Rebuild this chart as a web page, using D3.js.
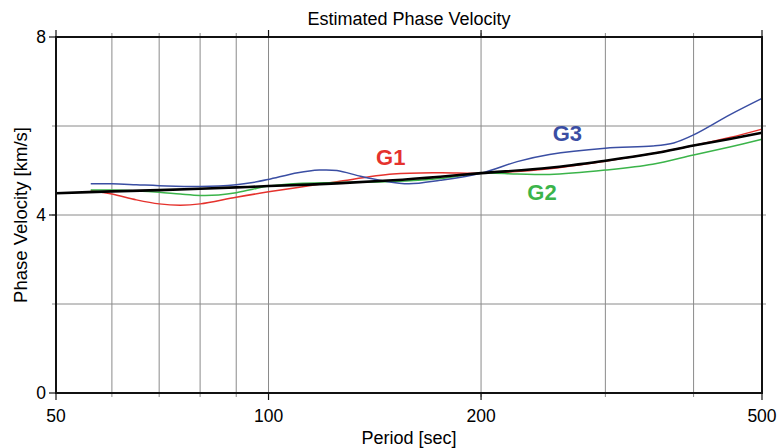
<!DOCTYPE html>
<html>
<head>
<meta charset="utf-8">
<title>Estimated Phase Velocity</title>
<script src="https://d3js.org/d3.v7.min.js"></script>
<style>
  body { margin: 0; background: #fff; }
  text { font-family: "Liberation Sans", Arial, sans-serif; }
</style>
</head>
<body>
<div id="chart"></div>
<script>
// data: period [sec] -> phase velocity [km/s]
var refPeriod = [50, 60, 70, 80, 90, 100, 125, 150, 175, 200, 250, 300, 350, 400, 450, 500];
var refVel    = [4.49, 4.53, 4.56, 4.59, 4.62, 4.65, 4.71, 4.78, 4.86, 4.94, 5.06, 5.22, 5.38, 5.56, 5.71, 5.85];

var g1Period = [56, 60, 65, 70, 75, 80, 90, 100, 110, 125, 150, 175, 200, 250, 300, 350, 400, 450, 500];
var g1Vel    = [4.55, 4.47, 4.34, 4.25, 4.22, 4.25, 4.40, 4.52, 4.62, 4.75, 4.92, 4.95, 4.94, 5.04, 5.21, 5.38, 5.56, 5.74, 5.93];

var g2Period = [56, 60, 65, 70, 75, 80, 85, 90, 95, 100, 110, 125, 150, 175, 200, 225, 250, 300, 350, 400, 450, 500];
var g2Vel    = [4.56, 4.56, 4.54, 4.51, 4.47, 4.44, 4.45, 4.50, 4.58, 4.65, 4.71, 4.73, 4.75, 4.82, 4.94, 4.92, 4.91, 5.01, 5.14, 5.35, 5.53, 5.70];

var g3Period = [56, 60, 65, 70, 80, 90, 95, 100, 110, 118, 125, 135, 145, 158, 175, 200, 225, 250, 300, 350, 375, 400, 450, 500];
var g3Vel    = [4.70, 4.70, 4.68, 4.66, 4.64, 4.68, 4.73, 4.80, 4.95, 5.01, 5.00, 4.87, 4.77, 4.70, 4.78, 4.94, 5.20, 5.36, 5.50, 5.55, 5.62, 5.80, 6.25, 6.62];

var xGrid = [60, 70, 80, 90, 100, 200, 300, 400];
var xTickLabels = [50, 100, 200, 500];
var yGrid = [2, 4, 6];
var yTickLabels = [0, 4, 8];

var labels = [
  {text: "G1", period: 149, vel: 5.13, color: "#e5322d"},
  {text: "G2", period: 244, vel: 4.34, color: "#3bb44a"},
  {text: "G3", period: 265, vel: 5.66, color: "#3a4ea3"}
];

var width = 779, height = 448;
var plotL = 56, plotR = 762, plotT = 37, plotB = 393;

var svg = d3.select("#chart").append("svg")
  .attr("width", width)
  .attr("height", height);

var x = d3.scaleLog().domain([50, 500]).range([plotL, plotR]);
var y = d3.scaleLinear().domain([0, 8]).range([plotB, plotT]);

// grid
svg.selectAll(".vgrid").data(xGrid).enter().append("line")
  .attr("x1", d => x(d)).attr("x2", d => x(d))
  .attr("y1", plotT - 4).attr("y2", plotB + 4)
  .attr("stroke", "#8a8a8a").attr("stroke-width", 1);

svg.selectAll(".hgrid").data(yGrid).enter().append("line")
  .attr("x1", plotL - 4).attr("x2", plotR + 4)
  .attr("y1", d => y(d)).attr("y2", d => y(d))
  .attr("stroke", "#8a8a8a").attr("stroke-width", 1);

// curves
var line = d3.line()
  .x(d => x(d[0]))
  .y(d => y(d[1]))
  .curve(d3.curveCatmullRom.alpha(0.5));

function drawCurve(ps, vs, color, w) {
  svg.append("path")
    .attr("d", line(d3.zip(ps, vs)))
    .attr("fill", "none")
    .attr("stroke", color)
    .attr("stroke-width", w);
}
drawCurve(g1Period, g1Vel, "#e5322d", 1.5);
drawCurve(g2Period, g2Vel, "#3bb44a", 1.5);
drawCurve(g3Period, g3Vel, "#3a4ea3", 1.5);
drawCurve(refPeriod, refVel, "#000", 2.6);

// frame
svg.append("rect")
  .attr("x", plotL).attr("y", plotT)
  .attr("width", plotR - plotL).attr("height", plotB - plotT)
  .attr("fill", "none").attr("stroke", "#111").attr("stroke-width", 2);

// major ticks
svg.selectAll(".xtick").data(xTickLabels).enter().append("line")
  .attr("x1", d => x(d)).attr("x2", d => x(d))
  .attr("y1", plotB).attr("y2", plotB + 7)
  .attr("stroke", "#111").attr("stroke-width", 1.2);
svg.selectAll(".xtickTop").data(xTickLabels).enter().append("line")
  .attr("x1", d => x(d)).attr("x2", d => x(d))
  .attr("y1", plotT).attr("y2", plotT - 7)
  .attr("stroke", "#111").attr("stroke-width", 1.2);
svg.selectAll(".ytick").data(yTickLabels).enter().append("line")
  .attr("x1", plotL - 7).attr("x2", plotL)
  .attr("y1", d => y(d)).attr("y2", d => y(d))
  .attr("stroke", "#111").attr("stroke-width", 1.2);

// tick labels
svg.selectAll(".xlab").data(xTickLabels).enter().append("text")
  .attr("x", d => x(d)).attr("y", plotB + 29)
  .attr("text-anchor", "middle")
  .attr("font-size", 17.5)
  .text(d => d);
svg.selectAll(".ylab").data(yTickLabels).enter().append("text")
  .attr("x", plotL - 10).attr("y", d => y(d) + 6)
  .attr("text-anchor", "end")
  .attr("font-size", 17.5)
  .text(d => d);

// titles
svg.append("text")
  .attr("x", (plotL + plotR) / 2).attr("y", 25)
  .attr("text-anchor", "middle").attr("font-size", 18)
  .text("Estimated Phase Velocity");
svg.append("text")
  .attr("x", (plotL + plotR) / 2).attr("y", 444)
  .attr("text-anchor", "middle").attr("font-size", 18)
  .text("Period [sec]");
svg.append("text")
  .attr("transform", "translate(27," + ((plotT + plotB) / 2) + ") rotate(-90)")
  .attr("text-anchor", "middle").attr("font-size", 18.5)
  .text("Phase Velocity [km/s]");

// curve labels
svg.selectAll(".glab").data(labels).enter().append("text")
  .attr("x", d => x(d.period)).attr("y", d => y(d.vel))
  .attr("text-anchor", "middle")
  .attr("font-size", 22).attr("font-weight", "bold")
  .attr("fill", d => d.color)
  .text(d => d.text);
</script>
</body>
</html>
